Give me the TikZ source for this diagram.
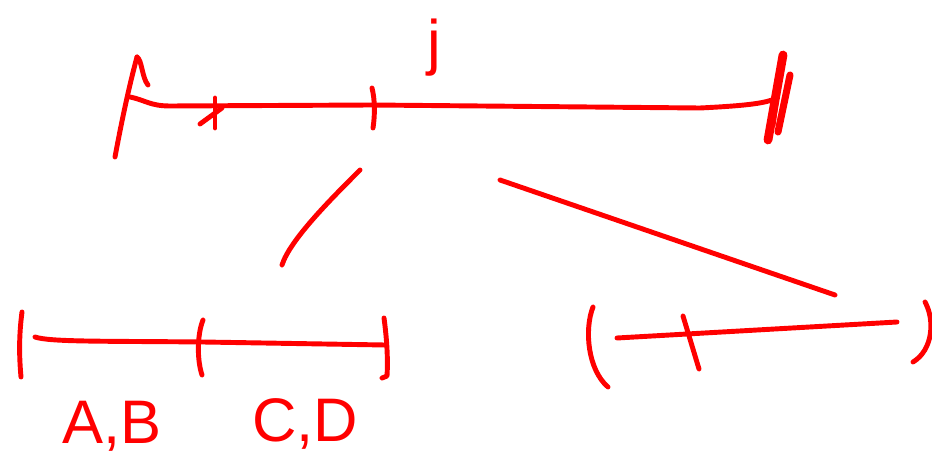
\documentclass[tikz,border=0pt]{standalone}
\usepackage{fontspec}
\setsansfont{Liberation Sans}
\tikzset{pen/.style={red, line width=2.8pt, line cap=round, line join=round},
  lbl/.style={red, font=\fontsize{35}{42}\sffamily, inner sep=0pt}}
\begin{document}
\begin{tikzpicture}[x=0.02cm, y=-0.02cm]
\useasboundingbox (0,0) rectangle (932,462);
% top interval
\coordinate (L) at (130,97);
\coordinate (M) at (372,105);
\coordinate (R) at (772,100);
\draw[pen] (137,57) .. controls (128,90) and (120,130) .. (115,157);
\draw[pen] (137,57) .. controls (142,60) and (142,78) .. (148,85);
\draw[pen] (L) .. controls (145,100) and (150,106) .. (170,106) -- (M) -- (700,108) .. controls (740,106) and (760,104) .. (R);
\draw[pen] (215,98) -- (215,128);
\draw[pen] (200,124) -- (222,108);
\draw[pen] (372,88) .. controls (375,100) and (375,115) .. (373,128);
\draw[pen, line width=5pt] (783,55) -- (768,140);
\draw[pen, line width=4pt] (790,75) -- (778,132);
\draw[pen, line width=4pt] (778,80) -- (772,125);
\node[lbl] (j) at (434,48) {j};
% branches
\draw[pen] (360,170) .. controls (330,200) and (290,240) .. (282,265);
\draw[pen] (500,180) -- (835,295);
% bottom left interval
\draw[pen] (22,312) .. controls (19,335) and (19,355) .. (21,377);
\draw[pen] (35,337) .. controls (50,342) and (100,341) .. (203,342) -- (385,345);
\draw[pen] (203,320) .. controls (197,335) and (197,360) .. (202,375);
\draw[pen] (384,318) .. controls (387,340) and (388,360) .. (387,376) -- (382,378);
\node[lbl] (ab) at (112,426) {A,B};
\node[lbl] (cd) at (305,424) {C,D};
% bottom right interval
\draw[pen] (593,307) .. controls (584,330) and (588,370) .. (608,387);
\draw[pen] (617,338) -- (897,322);
\draw[pen] (683,316) -- (699,369);
\draw[pen] (925,302) .. controls (935,320) and (933,350) .. (913,362);
\end{tikzpicture}
\end{document}
